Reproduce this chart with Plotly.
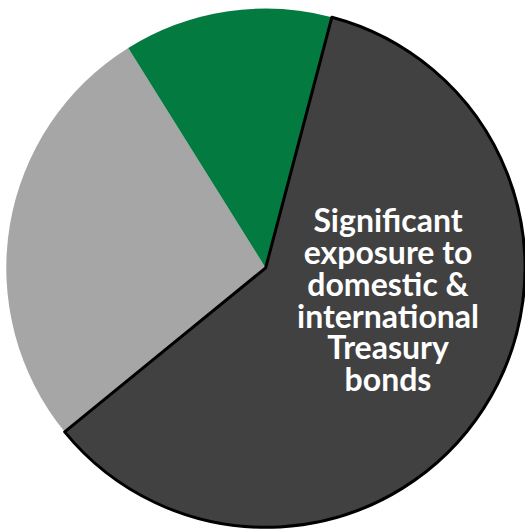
import plotly.graph_objects as go

labels = ["Other", "Equities", "Treasury bonds"]
values = [27.0, 13.0, 60.0]
colors = ["#A6A6A6", "#037A3F", "#414141"]
line_widths = [0, 0, 3]
note_lines = ["Significant", "exposure to", "domestic &", "international", "Treasury", "bonds"]

W, H = 525, 529

fig = go.Figure(go.Pie(
    labels=labels,
    values=values,
    sort=False,
    direction="clockwise",
    rotation=230.8,
    marker=dict(colors=colors, line=dict(color="black", width=line_widths)),
    textinfo="none",
    hoverinfo="none",
    showlegend=False,
    domain=dict(x=[0.012, 1.0], y=[0.0, 0.987]),
))

# one text block; base size sets the line pitch (1.3em ~ 31.8px), spans set glyph size
note = "<br>".join(f"<span style='font-size:32px'>{t}</span>" for t in note_lines)
fig.add_annotation(
    text=note, x=387.5 / W, y=1 - 298.5 / H, xref="paper", yref="paper",
    xanchor="center", yanchor="middle", showarrow=False, align="center",
    font=dict(family="Lato", size=24.5, color="white", weight="bold"),
)

fig.update_layout(
    width=W, height=H,
    margin=dict(l=0, r=0, t=0, b=0),
    paper_bgcolor="white", plot_bgcolor="white",
)

fig.write_html(
    "out.html",
    config={"displayModeBar": False},
    post_script="document.body.style.margin='0';document.body.style.overflow='hidden';",
)
